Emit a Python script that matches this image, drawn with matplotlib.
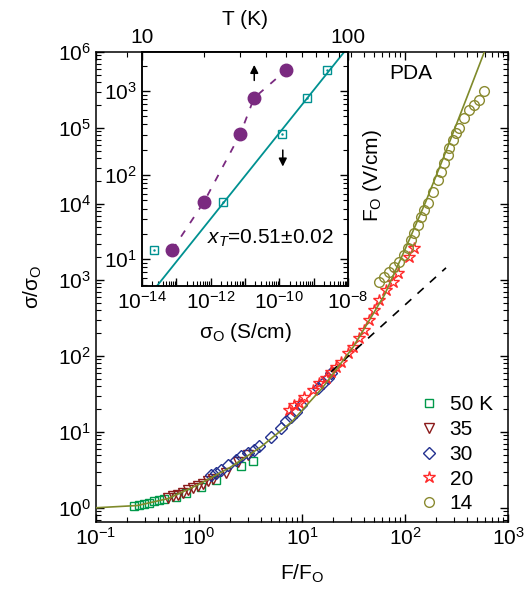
import numpy as np
import matplotlib
matplotlib.use('Agg')
import matplotlib.pyplot as plt
from matplotlib.ticker import LogLocator, NullFormatter, FixedLocator

plt.rcParams['font.family'] = ['Liberation Sans', 'DejaVu Sans']
plt.rcParams['mathtext.fontset'] = 'custom'
plt.rcParams['mathtext.rm'] = 'Liberation Sans'
plt.rcParams['mathtext.it'] = 'Liberation Sans:italic'
plt.rcParams['mathtext.bf'] = 'Liberation Sans:bold'

FS = 15

# Scaled data sigma/sigma_O vs F/F_O for each temperature
F50 = [0.236, 0.263, 0.294, 0.329, 0.368, 0.412, 0.460, 0.598, 0.748, 1.045, 1.46, 2.56, 3.34]
S50 = [1.062, 1.094, 1.130, 1.164, 1.211, 1.262, 1.312, 1.396, 1.574, 1.888, 2.333, 3.573, 4.150]

F35 = [0.497, 0.556, 0.621, 0.695, 0.776, 0.869, 0.971, 1.086, 1.213, 1.358, 1.828, 2.377, 2.972]
S35 = [1.343, 1.409, 1.483, 1.560, 1.690, 1.816, 1.945, 2.070, 2.218, 2.388, 2.864, 4.064, 4.977]

F30 = [1.31, 1.46, 1.64, 1.90, 2.29, 2.56, 2.97, 3.44, 3.85, 5.00, 6.25, 7.00, 7.82, 8.75, 9.77,
       14.2, 15.9, 17.8, 19.1]
S30 = [2.72, 2.91, 3.16, 3.68, 4.29, 4.73, 5.25, 5.79, 6.41, 8.67, 11.2, 13.7, 15.9, 18.5, 22.6,
       37.6, 43.8, 50.9, 59.2]

F20 = [7.48, 8.36, 9.35, 10.5, 12.7, 14.7, 17.1, 19.1, 21.4, 23.9, 27.8, 31.0, 36.0, 40.3, 45.0,
       50.4, 56.2, 65.5, 76.0, 84.9, 109, 122]
S20 = [19.5, 22.6, 24.1, 29.1, 35.7, 43.8, 50.9, 62.1, 72.3, 84.1, 108.6, 132.4, 171, 220, 298,
       403, 546, 738, 950, 1225, 2009, 2636]

F14 = [56.2, 63.0, 70.5, 78.7, 88.1, 98.4, 106, 114, 123, 133, 143, 154, 166, 186, 208, 224,
       241, 260, 269, 290, 313, 337, 377, 421, 471, 526, 589]
S14 = [950, 1104, 1285, 1496, 1742, 2133, 2612, 3357, 4111, 5297, 6808, 8337, 10210, 14520,
       20700, 26600, 34360, 44160, 54080, 69500, 85100, 99100, 134300, 172600, 200900, 233300,
       309700]

# Universal scaling curve and low-field power law
CURVE_F = [0.1, 0.251, 0.501, 1.0, 2.0, 3.98, 7.94, 15.8, 31.6, 63.1, 100, 158, 251, 398, 589]
CURVE_S = [1.0, 1.07, 1.32, 2.04, 3.39, 6.31, 13.5, 38.0, 132, 631, 2512, 10470, 50120,
           251200, 1.0e6]
DASH_F = [19.1, 250]
DASH_S = [61.5, 1440]

# Inset: scaling parameters
T_K = [14, 20, 30, 35, 50]
SIGMA_O = [2.2e-14, 2.35e-12, 1.22e-10, 6.5e-10, 2.5e-9]
F_O = [12.8, 48, 308, 826, 1763]
X_T = 0.51
LOG_F_INTERCEPT = 7.60

GREEN = '#00994a'
DKRED = '#8b1a1a'
NAVY = '#22308f'
RED = '#ff2a2a'
OLIVE = '#8a8a30'
TEAL = '#009191'
PURPLE = '#7a2a80'


def style_log_axis(a):
    a.tick_params(which='both', direction='in', labelsize=FS)
    a.tick_params(which='major', length=6, width=1)
    a.tick_params(which='minor', length=3.5, width=0.8)
    for s in a.spines.values():
        s.set_linewidth(1.1)


fig = plt.figure(figsize=(5.31, 6.10), dpi=100)
ax = fig.add_axes([0.1808, 0.1443, 0.7759, 0.7705])

mk = dict(linestyle='none', markerfacecolor='none', markeredgewidth=1.0)
ax.plot(F50, S50, marker='s', ms=6, color=GREEN, label='50 K', **mk)
ax.plot(F35, S35, marker='v', ms=7, color=DKRED, label='35', **mk)
ax.plot(F30, S30, marker='D', ms=6, color=NAVY, label='30', **mk)
ax.plot(F20, S20, marker='*', ms=9, color=RED, label='20', **mk)
ax.plot(F14, S14, marker='o', ms=7, color=OLIVE, label='14', **mk)
ax.plot(CURVE_F, CURVE_S, '-', color='#7f8a2a', lw=1.2, zorder=4)
ax.plot(DASH_F, DASH_S, '--', color='black', lw=1.2, dashes=(5, 5), zorder=3)

ax.set_xscale('log')
ax.set_yscale('log')
ax.set_xlim(0.1, 1000)
ax.set_ylim(0.65, 1e6)
ax.xaxis.set_minor_locator(LogLocator(base=10, subs=np.arange(2, 10), numticks=20))
ax.yaxis.set_minor_locator(LogLocator(base=10, subs=np.arange(2, 10), numticks=20))
ax.yaxis.set_major_locator(LogLocator(base=10, numticks=20))
ax.xaxis.set_minor_formatter(NullFormatter())
ax.yaxis.set_minor_formatter(NullFormatter())
style_log_axis(ax)
ax.tick_params(which='both', top=True, right=True)
ax.set_xlabel(r'F/F$_\mathrm{O}$', fontsize=FS, labelpad=10)
ax.set_ylabel(r'σ/σ$_\mathrm{O}$', fontsize=FS, labelpad=10)
ax.text(0.765, 0.955, 'PDA', transform=ax.transAxes, fontsize=FS, ha='center', va='center')

ax.legend(loc='upper left', bbox_to_anchor=(0.762, 0.292), frameon=False, fontsize=FS,
          handlelength=0.8, handletextpad=0.6, labelspacing=0.28, borderpad=0, numpoints=1)

# Inset: F_O vs sigma_O (bottom) and F_O vs T (top)
axi = fig.add_axes([0.2674, 0.5311, 0.388, 0.3836])
axi.plot(SIGMA_O, F_O, linestyle='none', marker='s', ms=6, markerfacecolor='none',
         markeredgecolor=TEAL, markeredgewidth=1.0, zorder=4)
axi.plot(SIGMA_O, F_O, linestyle='none', marker='.', ms=1.5, color=TEAL, zorder=4)
sig = np.logspace(-14, -8, 50)
axi.plot(sig, 10 ** (LOG_F_INTERCEPT + X_T * np.log10(sig)), '-', color=TEAL, lw=1.3)
axi.set_xscale('log')
axi.set_yscale('log')
axi.set_xlim(1e-14, 1e-8)
axi.set_ylim(4.8, 2900)
axi.xaxis.set_major_locator(FixedLocator([1e-14, 1e-13, 1e-12, 1e-11, 1e-10, 1e-9, 1e-8]))
axi.set_xticklabels([r'$10^{-14}$', '', r'$10^{-12}$', '', r'$10^{-10}$', '', r'$10^{-8}$'])
axi.xaxis.set_minor_locator(LogLocator(base=10, subs=np.arange(2, 10), numticks=20))
axi.xaxis.set_minor_formatter(NullFormatter())
axi.yaxis.set_minor_locator(LogLocator(base=10, subs=np.arange(2, 10), numticks=20))
axi.yaxis.set_minor_formatter(NullFormatter())
style_log_axis(axi)
axi.tick_params(which='both', right=True, top=False)
axi.set_xlabel(r'σ$_\mathrm{O}$ (S/cm)', fontsize=FS, labelpad=6)
axi.yaxis.set_label_position('right')
axi.set_ylabel(r'F$_\mathrm{O}$ (V/cm)', fontsize=FS, labelpad=9)
axi.yaxis.set_label_coords(1.065, 0.47)
axi.text(0.625, 0.205, r'$x_T$=0.51$\pm$0.02', transform=axi.transAxes, fontsize=FS,
         ha='center', va='center')
axi.annotate('', xy=(1.86e-11, 2200), xytext=(1.86e-11, 1235),
             arrowprops=dict(arrowstyle='-|>', color='black', lw=1.1, mutation_scale=12))
axi.annotate('', xy=(1.26e-10, 117), xytext=(1.26e-10, 214),
             arrowprops=dict(arrowstyle='-|>', color='black', lw=1.1, mutation_scale=12))

axt = axi.twiny()
axt.plot(T_K, F_O, '--', color=PURPLE, lw=1.3, dashes=(4, 5))
axt.plot(T_K, F_O, linestyle='none', marker='o', ms=9, color=PURPLE)
axt.set_xscale('log')
axt.set_xlim(10, 100)
axt.xaxis.set_major_locator(FixedLocator([10, 100]))
axt.set_xticklabels(['10', '100'])
axt.xaxis.set_minor_locator(FixedLocator([20, 30, 40, 50, 60, 70, 80, 90]))
axt.xaxis.set_minor_formatter(NullFormatter())
style_log_axis(axt)
axt.set_xlabel('T (K)', fontsize=FS, labelpad=2)

fig.savefig('out.png', dpi=100)
